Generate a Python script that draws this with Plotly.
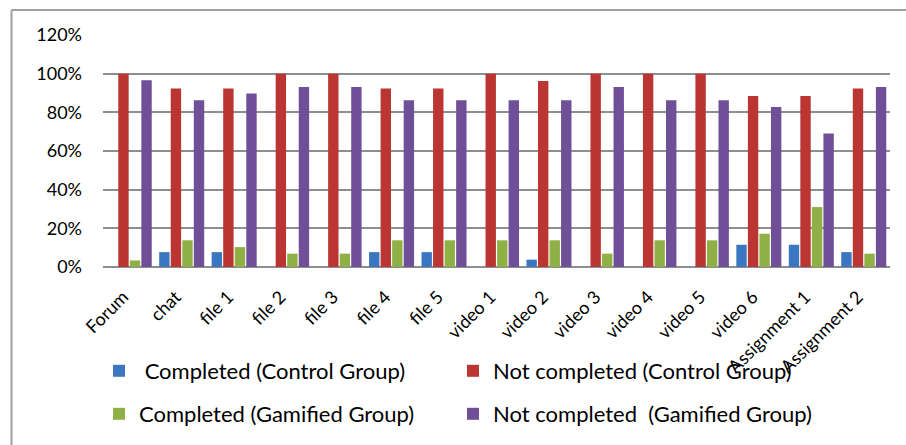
import plotly.graph_objects as go

categories = ["Forum", "chat", "file 1", "file 2", "file 3", "file 4", "file 5",
              "video 1", "video 2", "video 3", "video 4", "video 5", "video 6",
              "Assignment 1", "Assignment 2"]
completed_control = [0, 7.7, 7.7, 0, 0, 7.7, 7.7, 0, 3.8, 0, 0, 0, 11.5, 11.5, 7.7]
not_completed_control = [100, 92.3, 92.3, 100, 100, 92.3, 92.3, 100, 96.2, 100, 100, 100, 88.5, 88.5, 92.3]
completed_gamified = [3.4, 13.8, 10.3, 6.9, 6.9, 13.8, 13.8, 13.8, 13.8, 6.9, 13.8, 13.8, 17.2, 31.0, 6.9]
not_completed_gamified = [96.6, 86.2, 89.7, 93.1, 93.1, 86.2, 86.2, 86.2, 86.2, 93.1, 86.2, 86.2, 82.8, 69.0, 93.1]
y_ticks = [0, 20, 40, 60, 80, 100, 120]
y_tick_labels = ["0%", "20%", "40%", "60%", "80%", "100%", "120%"]

FONT = "Lato, Carlito, Calibri, sans-serif"

W, H = 906, 445
L, R, T, B = 103, 16, 34, 178
pw, ph = W - L - R, H - T - B

def px(x):
    return (x - L) / pw

def py(y):
    return (H - B - y) / ph

# name, values, colour, legend id, legend left (px), legend middle (px)
series = [
    ("\u00a0Completed (Control Group)", completed_control, "#3b77c0", "legend", 99, 371),
    ("Not completed (Control Group)", not_completed_control, "#bb3532", "legend2", 453, 371),
    ("Completed (Gamified Group)", completed_gamified, "#8fb044", "legend3", 99, 414),
    ("Not completed\u00a0 (Gamified Group)", not_completed_gamified, "#6f4f97", "legend4", 453, 414),
]

fig = go.Figure()
legends = {}
for name, vals, color, lg, lx, ly in series:
    fig.add_trace(go.Bar(x=categories, y=vals, name=name, marker_color=color,
                         marker_line_width=0, legend=lg, showlegend=True))
    legends[lg] = dict(orientation="h", x=px(lx), y=py(ly), xanchor="left",
                       yanchor="middle", font=dict(size=22),
                       bgcolor="rgba(0,0,0,0)")

fig.update_layout(
    width=W, height=H,
    showlegend=True,
    margin=dict(l=L, r=R, t=T, b=B, pad=0, autoexpand=False),
    paper_bgcolor="white", plot_bgcolor="white",
    barmode="group", bargap=0.12, bargroupgap=0.1,
    font=dict(family=FONT, color="#000000"),
    xaxis=dict(tickangle=-45, tickfont=dict(size=18), showgrid=False,
               showline=False, ticks="", ticklabelstandoff=15,
               ticklabelshift=-6, automargin=False),
    yaxis=dict(range=[0, 120.5], tickvals=y_ticks, ticktext=y_tick_labels,
               tickfont=dict(size=18), showgrid=True, gridcolor="#8e8e8e",
               gridwidth=2, zeroline=True, zerolinecolor="#8e8e8e",
               zerolinewidth=2, ticklabelstandoff=20, showline=False,
               automargin=False),
    shapes=[
        dict(type="line", xref="paper", yref="paper", x0=px(11.5), x1=px(910),
             y0=py(10), y1=py(10), line=dict(color="#a0a0a0", width=2)),
        dict(type="line", xref="paper", yref="paper", x0=px(11.5), x1=px(11.5),
             y0=py(10), y1=py(450), line=dict(color="#a0a0a0", width=2)),
    ],
    **legends,
)

fig.write_html("out.html", config={"displayModeBar": False},
               post_script="document.body.style.margin='0';")
